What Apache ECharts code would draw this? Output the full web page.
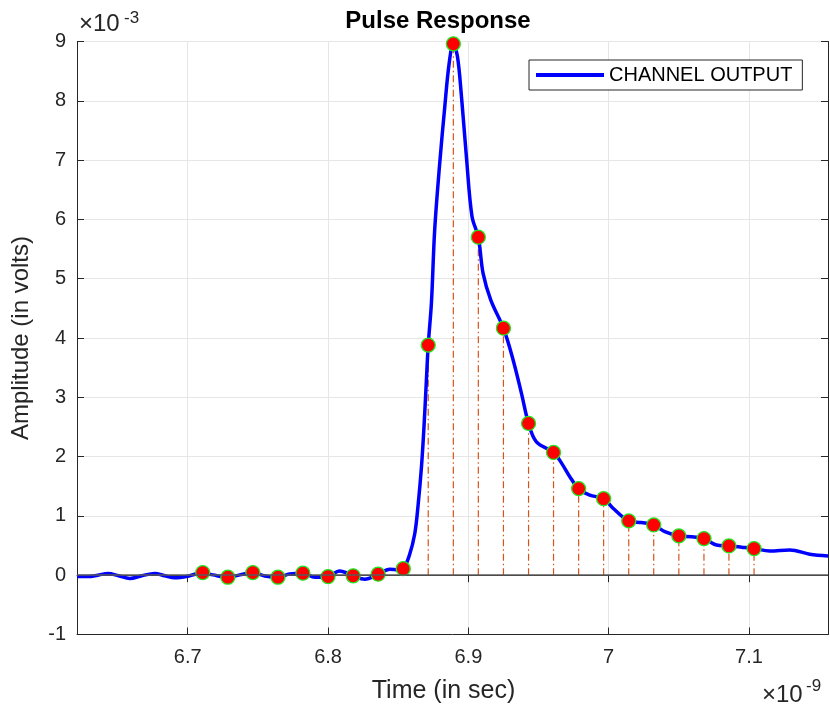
<!DOCTYPE html>
<html>
<head>
<meta charset="utf-8">
<title>Pulse Response</title>
<script src="https://cdn.jsdelivr.net/npm/echarts@6/dist/echarts.min.js"></script>
<style>
  html, body { margin: 0; padding: 0; background: #fff; }
  #chart { width: 830px; height: 709px; }
</style>
</head>
<body>
<div id="chart"></div>
<script>
// time in ns (axis shows x10^-9), amplitude in mV (axis shows x10^-3)
const curveTime = [
  6.6211, 6.6289, 6.6359, 6.6432, 6.6508, 6.6587, 6.6672, 6.6765, 6.6836, 6.6907,
  6.7002, 6.7107, 6.7180, 6.7286, 6.7371, 6.7464, 6.7549, 6.7643, 6.7727, 6.7821,
  6.7906, 6.8000, 6.8083, 6.8179, 6.8262, 6.8357, 6.8440, 6.8499, 6.8536, 6.8579,
  6.8618, 6.8641, 6.8666, 6.8684, 6.8701, 6.8714, 6.8737, 6.8760, 6.8796, 6.8832,
  6.8863, 6.8893, 6.8922, 6.8951, 6.8986, 6.9026, 6.9071, 6.9105, 6.9160, 6.9250,
  6.9319, 6.9378, 6.9429, 6.9485, 6.9607, 6.9664, 6.9723, 6.9786, 6.9865, 6.9964,
  7.0031, 7.0143, 7.0234, 7.0321, 7.0400, 7.0500, 7.0590, 7.0679, 7.0768, 7.0857,
  7.0947, 7.1036, 7.1148, 7.1291, 7.1433, 7.1563
];
const curveAmp = [
  -0.023, -0.023, 0.000, 0.030, -0.010, -0.055, -0.010, 0.030, -0.010, -0.045,
  -0.017, 0.044, 0.005, -0.034, 0.005, 0.044, -0.012, -0.034, 0.022, 0.034,
  -0.034, -0.023, 0.072, -0.010, -0.067, 0.017, 0.100, 0.090, 0.110, 0.330,
  0.700, 1.160, 1.830, 2.510, 3.290, 3.880, 4.600, 5.820, 6.950, 7.900,
  8.630, 8.960, 8.750, 8.070, 7.060, 6.050, 5.700, 5.090, 4.640, 4.165,
  3.630, 3.070, 2.560, 2.250, 2.070, 1.890, 1.660, 1.460, 1.350, 1.290,
  1.130, 0.916, 0.887, 0.848, 0.735, 0.663, 0.650, 0.617, 0.510, 0.494,
  0.472, 0.449, 0.410, 0.427, 0.354, 0.325
];
const sampleTime = [
  6.7107, 6.7286, 6.7464, 6.7643, 6.7821, 6.8000, 6.8179, 6.8357, 6.8536, 6.8714,
  6.8893, 6.9071, 6.9250, 6.9429, 6.9607, 6.9786, 6.9964, 7.0143, 7.0321, 7.0500,
  7.0679, 7.0857, 7.1036
];
const sampleAmp = [
  0.044, -0.034, 0.044, -0.034, 0.034, -0.023, -0.010, 0.017, 0.110, 3.880,
  8.960, 5.700, 4.165, 2.560, 2.070, 1.460, 1.290, 0.916, 0.848, 0.663,
  0.617, 0.494, 0.449
];
const xMin = 6.6211;
const xMax = 7.1563;
const yMin = -1;
const yMax = 9;
const yStep = 1;

const font = 'Liberation Sans, Arial, Helvetica, sans-serif';
const axisColor = '#262626';
const gridColor = '#e6e6e6';

const chart = echarts.init(document.getElementById('chart'));

const curveData = curveTime.map((t, i) => [t, curveAmp[i]]);
const sampleData = sampleTime.map((t, i) => [t, sampleAmp[i]]);

const boxAxis = {
  type: 'value',
  axisLine: { show: true, lineStyle: { color: axisColor, width: 1 } },
  axisTick: { show: true, inside: true, length: 7, lineStyle: { color: axisColor } },
  axisLabel: { show: false },
  splitLine: { show: false }
};

const option = {
  animation: false,
  textStyle: { fontFamily: font },
  title: {
    text: 'Pulse Response',
    left: 438,
    top: 9,
    padding: 0,
    textAlign: 'center',
    textStyle: { fontFamily: font, fontSize: 24, fontWeight: 'bold', color: '#000' }
  },
  legend: {
    data: ['CHANNEL OUTPUT'],
    left: 529,
    top: 60,
    padding: [5, 10, 5, 7],
    icon: 'rect',
    itemWidth: 68,
    itemHeight: 4,
    itemGap: 6,
    borderColor: axisColor,
    borderWidth: 1,
    backgroundColor: '#fff',
    textStyle: { fontFamily: font, fontSize: 20, color: '#000' }
  },
  grid: { left: 77, right: 2, top: 41.5, bottom: 74.5 },
  xAxis: [
    {
      type: 'value',
      min: xMin,
      max: xMax,
      splitNumber: 5,
      name: 'Time (in sec)',
      nameLocation: 'middle',
      nameGap: 44,
      nameTextStyle: { fontFamily: font, fontSize: 25, color: axisColor, padding: [0, 18, 0, 0] },
      axisLine: { show: true, onZero: false, lineStyle: { color: axisColor, width: 1 } },
      axisTick: { show: true, inside: true, length: 7, lineStyle: { color: axisColor } },
      axisLabel: {
        fontFamily: font, fontSize: 20, color: axisColor, margin: 13,
        showMinLabel: false, showMaxLabel: false
      },
      splitLine: { show: true, lineStyle: { color: gridColor, width: 1 } }
    },
    Object.assign({}, boxAxis, { min: xMin, max: xMax, splitNumber: 5, position: 'top' })
  ],
  yAxis: [
    {
      type: 'value',
      min: yMin,
      max: yMax,
      interval: yStep,
      name: 'Amplitude (in volts)',
      nameLocation: 'middle',
      nameRotate: 90,
      nameGap: 44,
      nameTextStyle: { fontFamily: font, fontSize: 24, color: axisColor },
      axisLine: { show: true, onZero: false, lineStyle: { color: axisColor, width: 1 } },
      axisTick: { show: true, inside: true, length: 7, lineStyle: { color: axisColor } },
      axisLabel: { fontFamily: font, fontSize: 20, color: axisColor, margin: 11 },
      splitLine: { show: true, lineStyle: { color: gridColor, width: 1 } }
    },
    Object.assign({}, boxAxis, { min: yMin, max: yMax, interval: yStep, position: 'right' })
  ],
  graphic: [
    { type: 'text', left: 79, top: 12, style: { text: '×10', font: '24px ' + font, fill: axisColor } },
    { type: 'text', left: 124, top: 10, style: { text: '-3', font: '17px ' + font, fill: axisColor } },
    { type: 'text', left: 762, top: 683, style: { text: '×10', font: '24px ' + font, fill: axisColor } },
    { type: 'text', left: 806, top: 678, style: { text: '-9', font: '17px ' + font, fill: axisColor } }
  ],
  series: [
    {
      name: 'stems',
      type: 'custom',
      encode: { x: 0, y: 1 },
      data: sampleData,
      z: 2,
      silent: true,
      renderItem: function (params, api) {
        const top = api.coord([api.value(0), api.value(1)]);
        const base = api.coord([api.value(0), 0]);
        return {
          type: 'line',
          shape: { x1: base[0], y1: base[1], x2: top[0], y2: top[1] },
          style: { stroke: '#d95319', lineWidth: 1.2, lineDash: [7, 3, 1.5, 3] }
        };
      },
      markLine: {
        silent: true,
        symbol: 'none',
        label: { show: false },
        lineStyle: { color: '#5a5a5a', width: 1.5, type: 'solid' },
        data: [{ yAxis: 0 }]
      }
    },
    {
      name: 'CHANNEL OUTPUT',
      type: 'line',
      data: curveData,
      showSymbol: false,
      smooth: 0.35,
      z: 3,
      lineStyle: { color: '#0000ff', width: 3.5 },
      itemStyle: { color: '#0000ff' }
    },
    {
      name: 'samples',
      type: 'scatter',
      data: sampleData,
      symbol: 'circle',
      symbolSize: 14,
      z: 4,
      itemStyle: { color: '#ff0000', borderColor: '#1ee81e', borderWidth: 1.3, opacity: 1 }
    }
  ]
};

chart.setOption(option);
</script>
</body>
</html>
